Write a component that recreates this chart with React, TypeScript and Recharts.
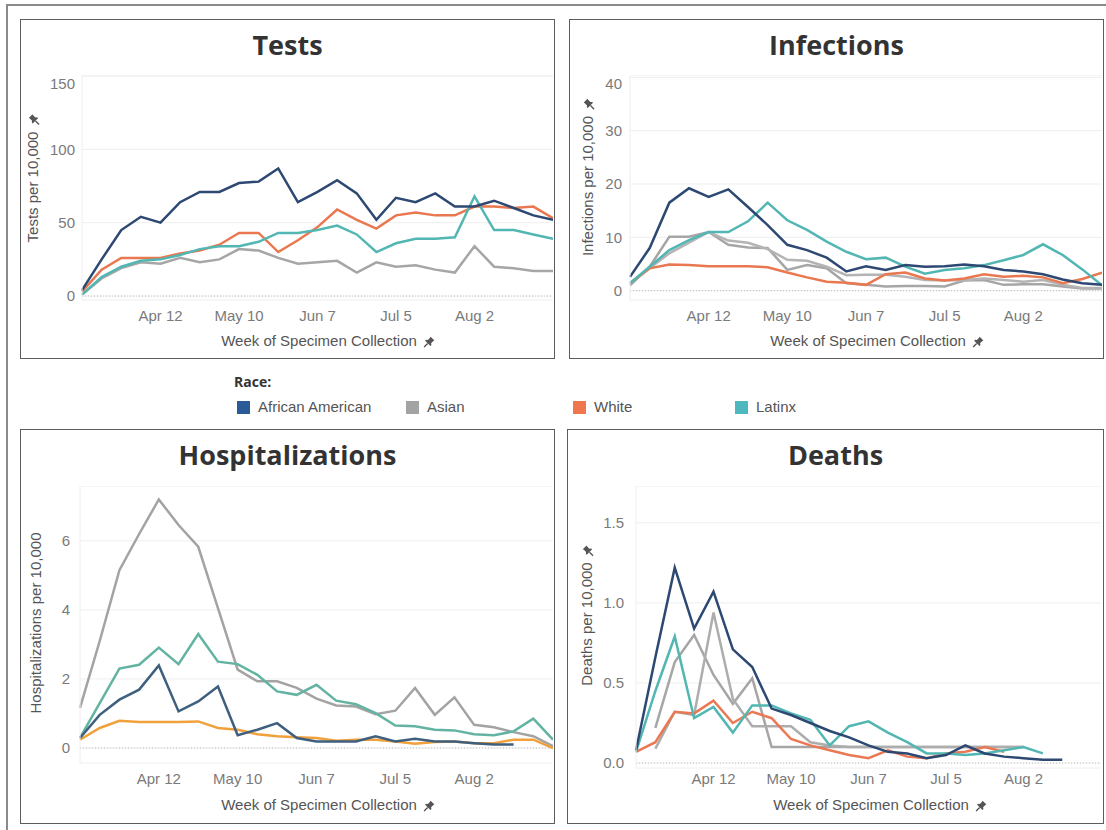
import React from "react";
import { LineChart, Line, XAxis, YAxis, CartesianGrid, ReferenceLine } from "recharts";

// weekly buckets, Mar 15 .. Aug 30
const weeks = [
  "Mar 15", "Mar 22", "Mar 29", "Apr 5", "Apr 12", "Apr 19", "Apr 26", "May 3", "May 10",
  "May 17", "May 24", "May 31", "Jun 7", "Jun 14", "Jun 21", "Jun 28", "Jul 5", "Jul 12",
  "Jul 19", "Jul 26", "Aug 2", "Aug 9", "Aug 16", "Aug 23", "Aug 30",
];
const shownWeeks = ["Apr 12", "May 10", "Jun 7", "Jul 5", "Aug 2"];

const races = ["African American", "Asian", "White", "Latinx"];
const legendColors = ["#2b5a98", "#a3a3a3", "#ee7750", "#4fb8bf"];

// Tests per 10,000
const testsAfricanAmerican = [4, 25, 45, 54, 50, 64, 71, 71, 77, 78, 87, 64, 71, 79, 70, 52, 67, 64, 70, 61, 61, 65, 60, 55, 52];
const testsAsian = [1, 12, 19, 23, 22, 26, 23, 25, 32, 31, 26, 22, 23, 24, 16, 23, 20, 21, 18, 16, 34, 20, 19, 17, 17];
const testsWhite = [3, 18, 26, 26, 26, 29, 31, 35, 43, 43, 30, 38, 47, 59, 52, 46, 55, 57, 55, 55, 61, 61, 60, 61, 53];
const testsLatinx = [1, 13, 20, 24, 25, 28, 32, 34, 34, 37, 43, 43, 45, 48, 42, 30, 36, 39, 39, 40, 68, 45, 45, 42, 39];

// Infections per 10,000
const infAfricanAmerican = [2.6, 8, 16.5, 19.2, 17.6, 19, 15.7, 12.3, 8.6, 7.6, 6.2, 3.6, 4.6, 3.9, 4.8, 4.5, 4.6, 4.9, 4.6, 3.9, 3.6, 3.1, 2.1, 1.4, 1.1];
const infAsian = [1, 4.5, 10.1, 10.1, 11, 8.6, 8.1, 8, 3.9, 4.8, 4.2, 1.4, 1.1, 0.8, 0.9, 0.9, 0.8, 1.9, 2, 1.1, 1.2, 1.2, 0.8, 0.4, 0.4];
const infOther = [1.4, 4.2, 7, 9, 11, 9.4, 9, 7.8, 5.8, 5.6, 4.5, 2.9, 3, 3, 2.6, 2, 1.9, 2, 2.3, 2, 1.7, 2, 1.1, 0.5, 0.5];
const infWhite = [1.4, 4.2, 4.9, 4.8, 4.6, 4.6, 4.6, 4.4, 3.4, 2.5, 1.7, 1.5, 1.1, 3.1, 3.4, 2.3, 1.9, 2.3, 3.1, 2.6, 2.8, 2.5, 1.4, 2.2, 3.4];
const infLatinx = [1.4, 4.5, 7.6, 9.5, 11, 11, 13, 16.5, 13.2, 11.4, 9.2, 7.3, 5.9, 6.2, 4.5, 3.2, 3.9, 4.2, 4.8, 5.7, 6.7, 8.7, 6.7, 4, 1];

// Hospitalizations per 10,000
const hospAfricanAmerican = [0.29, 0.96, 1.4, 1.69, 2.39, 1.06, 1.35, 1.78, 0.37, 0.53, 0.72, 0.29, 0.19, 0.19, 0.19, 0.34, 0.19, 0.27, 0.19, 0.19, 0.14, 0.1, 0.1, null, null];
const hospAsian = [1.16, 3.1, 5.15, 6.2, 7.2, 6.46, 5.83, 4.05, 2.27, 1.93, 1.93, 1.74, 1.43, 1.23, 1.2, 0.98, 1.08, 1.74, 0.96, 1.47, 0.67, 0.6, 0.46, 0.34, 0.05];
const hospWhite = [0.24, 0.58, 0.79, 0.75, 0.75, 0.75, 0.77, 0.58, 0.53, 0.4, 0.34, 0.31, 0.29, 0.21, 0.24, 0.24, 0.19, 0.12, 0.17, 0.19, 0.14, 0.14, 0.24, 0.24, 0];
const hospLatinx = [0.29, 1.3, 2.3, 2.41, 2.91, 2.43, 3.3, 2.5, 2.43, 2.12, 1.64, 1.54, 1.83, 1.37, 1.27, 1.01, 0.65, 0.63, 0.53, 0.51, 0.4, 0.37, 0.48, 0.85, 0.24];

// Deaths per 10,000
const deathsAfricanAmerican = [0.08, 0.66, 1.22, 0.84, 1.07, 0.71, 0.6, 0.34, 0.3, 0.25, 0.2, 0.16, 0.11, 0.07, 0.06, 0.03, 0.05, 0.11, 0.06, 0.04, 0.03, 0.02, 0.02, null, null];
const deathsAsian = [null, 0.22, 0.63, 0.8, 0.55, 0.37, 0.53, 0.1, 0.1, 0.1, 0.1, 0.1, 0.1, 0.1, 0.1, 0.1, 0.1, 0.1, 0.1, 0.1, 0.1, null, null, null, null];
const deathsOther = [null, 0.09, 0.32, 0.3, 0.94, 0.4, 0.23, 0.23, 0.23, 0.13, 0.11, 0.1, 0.1, 0.1, 0.1, 0.1, 0.1, 0.1, 0.1, 0.1, 0.1, null, null, null, null];
const deathsWhite = [0.07, 0.13, 0.32, 0.31, 0.39, 0.25, 0.32, 0.28, 0.15, 0.11, 0.08, 0.05, 0.03, 0.08, 0.04, 0.03, 0.06, 0.07, 0.1, 0.07, null, null, null, null, null];
const deathsLatinx = [0.07, 0.45, 0.79, 0.28, 0.35, 0.19, 0.36, 0.36, 0.31, 0.27, 0.11, 0.23, 0.26, 0.19, 0.13, 0.06, 0.06, 0.05, 0.06, 0.08, 0.1, 0.06, null, null, null];

const FONT = "'Liberation Sans', Arial, sans-serif";

type Series = { key: string; values: (number | null)[]; color: string };

const buildRows = (series: Series[]) =>
  weeks.map((week, i) => {
    const row: any = { week };
    series.forEach((s) => (row[s.key] = s.values[i] ?? null));
    return row;
  });

const Pin = ({ size = 12 }: { size?: number }) => (
  <svg width={size} height={size} viewBox="0 0 16 16" style={{ marginLeft: 6, verticalAlign: "middle" }}>
    <path d="M10 1 L15 6 L13.6 6.8 L10.6 9.8 L10.9 12.2 L9.7 13.4 L2.6 6.3 L3.8 5.1 L6.2 5.4 L9.2 2.4 Z" fill="#555" />
    <path d="M6 10 L1.2 14.8" stroke="#555" strokeWidth={1.8} />
  </svg>
);

interface PanelProps {
  title: string;
  box: { left: number; top: number; width: number; height: number };
  plot: { left: number; right: number; top: number; bottom: number };
  domain: [number, number];
  ticks: number[];
  yFmt?: (v: number) => string;
  series: Series[];
  yLabel: string;
  yPin?: boolean;
  yLabelPos: { x: number; y: number };
  xTitlePos: { x: number; y: number };
  yTickGap?: number;
  xTickMargin?: number;
}

const Panel: React.FC<PanelProps> = ({
  title, box, plot, domain, ticks, yFmt, series, yLabel, yPin = true,
  yLabelPos, xTitlePos, yTickGap = 8, xTickMargin = 10,
}) => {
  const yAxisW = 60;
  const xAxisH = 30;
  const data = buildRows(series);
  return (
    <>
      <div
        style={{
          position: "absolute", left: box.left, top: box.top, width: box.width, height: box.height,
          border: "1.5px solid #5c5c5c", boxSizing: "border-box", background: "#fff",
        }}
      />
      <div
        style={{
          position: "absolute", left: box.left, width: box.width, top: box.top + 11, textAlign: "center",
          fontFamily: "'Open Sans', sans-serif", fontWeight: 700, fontSize: 27, color: "#333",
          lineHeight: "30px",
        }}
      >
        {title}
      </div>
      <div style={{ position: "absolute", left: plot.left - yAxisW, top: plot.top }}>
        <LineChart
          width={yAxisW + plot.right - plot.left}
          height={plot.bottom - plot.top + xAxisH}
          data={data}
          margin={{ top: 0, right: 0, bottom: 0, left: 0 }}
        >
          <CartesianGrid horizontal vertical={false} stroke="#eeeeee" />
          <XAxis
            dataKey="week"
            interval={0}
            height={xAxisH}
            tickLine={false}
            axisLine={false}
            tickSize={0}
            tickMargin={xTickMargin}
            tick={{ fontSize: 15, fill: "#7a7a7a", fontFamily: FONT }}
            tickFormatter={(w: string) => (shownWeeks.includes(w) ? w : "")}
          />
          <YAxis
            width={yAxisW}
            type="number"
            domain={domain}
            ticks={ticks}
            allowDataOverflow
            tickLine={false}
            axisLine={{ stroke: "#eeeeee" }}
            tickSize={0}
            tickMargin={yTickGap}
            tick={{ fontSize: 15, fill: "#7a7a7a", fontFamily: FONT }}
            tickFormatter={yFmt}
          />
          <ReferenceLine y={0} stroke="#bdbdbd" strokeDasharray="1 2" />
          {series.map((s) => (
            <Line
              key={s.key}
              type="linear"
              dataKey={s.key}
              stroke={s.color}
              strokeWidth={2.5}
              dot={false}
              activeDot={false}
              isAnimationActive={false}
            />
          ))}
        </LineChart>
      </div>
      <div
        style={{
          position: "absolute", left: yLabelPos.x, top: yLabelPos.y, whiteSpace: "nowrap",
          transform: "translate(-50%, -50%) rotate(-90deg)", fontFamily: FONT, fontSize: 15,
          color: "#555", lineHeight: "18px",
        }}
      >
        {yLabel}
        {yPin && <Pin />}
      </div>
      <div
        style={{
          position: "absolute", left: xTitlePos.x, top: xTitlePos.y, whiteSpace: "nowrap",
          transform: "translate(-50%, -50%)", fontFamily: FONT, fontSize: 15, color: "#555",
          lineHeight: "18px",
        }}
      >
        Week of Specimen Collection
        <Pin />
      </div>
    </>
  );
};

const Legend = () => {
  const xs = [237, 406, 573, 735];
  return (
    <>
      <div
        style={{
          position: "absolute", left: 234, top: 373, fontFamily: "'Open Sans', sans-serif",
          fontWeight: 700, fontSize: 14, color: "#333", lineHeight: "18px",
        }}
      >
        Race:
      </div>
      {races.map((r, i) => (
        <div
          key={r}
          style={{
            position: "absolute", left: xs[i], top: 398, display: "flex", alignItems: "center",
            fontFamily: FONT, fontSize: 15, color: "#555", lineHeight: "18px",
          }}
        >
          <span style={{ width: 13, height: 13, background: legendColors[i], marginRight: 8, display: "inline-block" }} />
          {r}
        </div>
      ))}
    </>
  );
};

export default function App() {
  const one = (v: number) => v.toFixed(1);
  return (
    <div
      style={{
        position: "absolute", left: 0, top: 0, width: 1106, height: 830, overflow: "hidden",
        background: "#fff", fontFamily: FONT,
      }}
    >
      <div
        style={{
          position: "absolute", left: 6, top: 4, width: 1120, height: 840,
          border: "2px solid #8a8a8a", boxSizing: "border-box",
        }}
      />
      <Panel
        title="Tests"
        box={{ left: 20, top: 19, width: 535, height: 340 }}
        plot={{ left: 82, right: 553, top: 75, bottom: 300 }}
        domain={[-2.7, 150.7]}
        ticks={[0, 50, 100, 150]}
        yTickGap={7}
        series={[
          { key: "asian", values: testsAsian, color: "#a6a6a6" },
          { key: "white", values: testsWhite, color: "#e9774f" },
          { key: "latinx", values: testsLatinx, color: "#52b6b3" },
          { key: "aa", values: testsAfricanAmerican, color: "#2d4872" },
        ]}
        yLabel="Tests per 10,000"
        yLabelPos={{ x: 33, y: 178 }}
        xTitlePos={{ x: 328, y: 341 }}
      />
      <Panel
        title="Infections"
        box={{ left: 569, top: 19, width: 535, height: 340 }}
        plot={{ left: 630, right: 1102, top: 75, bottom: 300 }}
        domain={[-1.74, 40.43]}
        ticks={[0, 10, 20, 30, 40]}
        series={[
          { key: "asian", values: infAsian, color: "#a6a6a6" },
          { key: "other", values: infOther, color: "#b4b4b4" },
          { key: "white", values: infWhite, color: "#e9774f" },
          { key: "latinx", values: infLatinx, color: "#52b6b3" },
          { key: "aa", values: infAfricanAmerican, color: "#2d4872" },
        ]}
        yLabel="Infections per 10,000"
        yLabelPos={{ x: 588, y: 177 }}
        xTitlePos={{ x: 877, y: 341 }}
      />
      <Panel
        title="Hospitalizations"
        box={{ left: 20, top: 429, width: 535, height: 395 }}
        plot={{ left: 80, right: 553, top: 486, bottom: 763 }}
        domain={[-0.435, 7.59]}
        ticks={[0, 2, 4, 6]}
        yTickGap={10}
        xTickMargin={10}
        series={[
          { key: "asian", values: hospAsian, color: "#a3a3a3" },
          { key: "white", values: hospWhite, color: "#f0a13c" },
          { key: "latinx", values: hospLatinx, color: "#63b3a2" },
          { key: "aa", values: hospAfricanAmerican, color: "#3f5f7e" },
        ]}
        yLabel="Hospitalizations per 10,000"
        yPin={false}
        yLabelPos={{ x: 36, y: 623 }}
        xTitlePos={{ x: 328, y: 805 }}
      />
      <Panel
        title="Deaths"
        box={{ left: 567, top: 429, width: 537, height: 395 }}
        plot={{ left: 636, right: 1101, top: 486, bottom: 768 }}
        domain={[-0.031, 1.73]}
        ticks={[0, 0.5, 1, 1.5]}
        yFmt={one}
        yTickGap={12}
        xTickMargin={5}
        series={[
          { key: "asian", values: deathsAsian, color: "#a6a6a6" },
          { key: "other", values: deathsOther, color: "#adadad" },
          { key: "white", values: deathsWhite, color: "#ea7853" },
          { key: "latinx", values: deathsLatinx, color: "#52b6b3" },
          { key: "aa", values: deathsAfricanAmerican, color: "#2d4872" },
        ]}
        yLabel="Deaths per 10,000"
        yLabelPos={{ x: 587, y: 615 }}
        xTitlePos={{ x: 880, y: 805 }}
      />
      <Legend />
    </div>
  );
}
